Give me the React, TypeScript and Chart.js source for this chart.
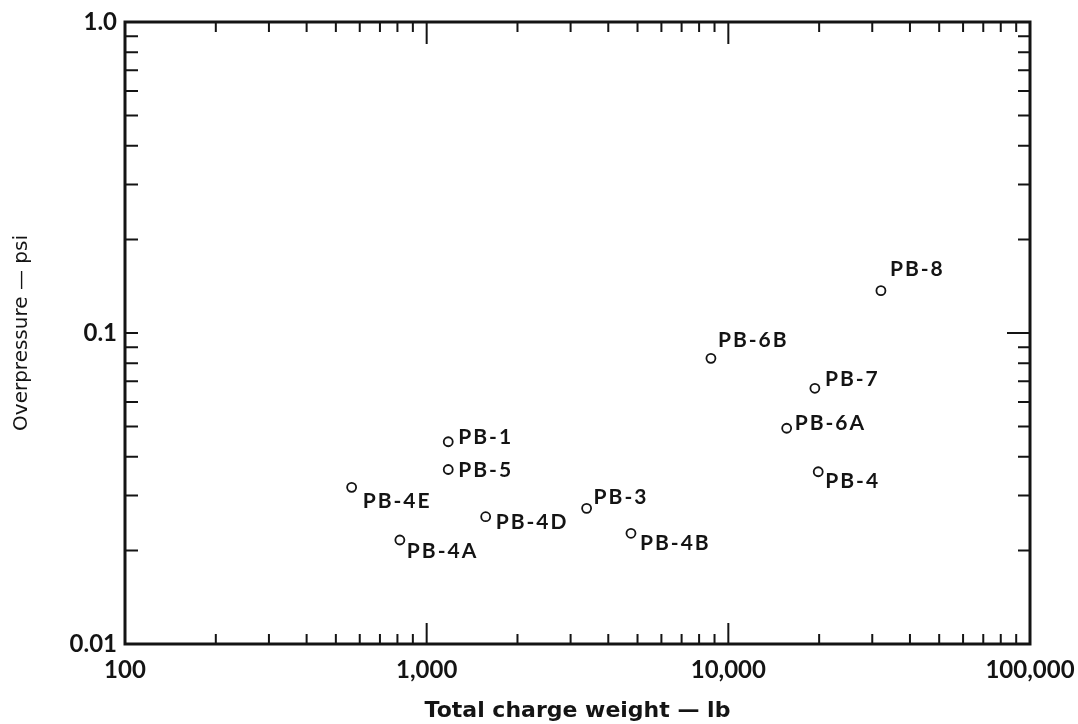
import React, { useEffect, useRef } from "react";
import { Chart, registerables } from "chart.js";

Chart.register(...registerables);

const shotNames = ["PB-1", "PB-5", "PB-4E", "PB-4D", "PB-4A", "PB-3", "PB-4B", "PB-8", "PB-6B", "PB-7", "PB-6A", "PB-4"];
const chargeWeightLb = [1179, 1179, 564, 1569, 815, 3390, 4756, 32050, 8756, 19360, 15610, 19860];
const overpressurePsi = [0.0447, 0.0364, 0.0319, 0.02566, 0.0216, 0.0273, 0.0227, 0.1368, 0.0829, 0.0664, 0.0494, 0.0358];
// label offset from the point (px), right and down
const labelDx = [10, 10, 11, 10, 7, 7, 9, 9, 7, 10, 8, 7];
const labelDy = [-5, 1, 14, 6, 11, -11, 10, -21, -18, -9, -5, 9];

const xTickValues = [100, 1000, 10000, 100000];
const xTickLabels = ["100", "1,000", "10,000", "100,000"];
const yTickValues = [0.01, 0.1, 1];
const yTickLabels = ["0.01", "0.1", "1.0"];

const INK = "#141414";

const framePlugin = {
  id: "frameTicks",
  beforeDatasetsDraw(chart: any) {
    const { ctx, chartArea: a, scales } = chart;
    const xs = scales.x;
    const ys = scales.y;
    ctx.save();
    ctx.strokeStyle = INK;
    ctx.lineCap = "butt";
    ctx.lineWidth = 2;
    for (let n = 2; n <= 4; n++) {
      for (let k = 1; k <= 9; k++) {
        const v = k * Math.pow(10, n);
        if (v <= 100 || v >= 100000) continue;
        const px = xs.getPixelForValue(v);
        const major = k === 1;
        const lb = major ? 21 : 10;
        const lt = major ? 22 : 10;
        ctx.beginPath();
        ctx.moveTo(px, a.bottom);
        ctx.lineTo(px, a.bottom - lb);
        ctx.moveTo(px, a.top);
        ctx.lineTo(px, a.top + lt);
        ctx.stroke();
      }
    }
    for (let n = -2; n <= -1; n++) {
      for (let k = 1; k <= 9; k++) {
        const v = k * Math.pow(10, n);
        if (v <= 0.01 || v >= 1) continue;
        const py = ys.getPixelForValue(v);
        const major = k === 1;
        ctx.beginPath();
        ctx.moveTo(a.left, py);
        ctx.lineTo(a.left + 13, py);
        ctx.moveTo(a.right, py);
        ctx.lineTo(a.right - (major ? 23 : 12), py);
        ctx.stroke();
      }
    }
    ctx.lineWidth = 3;
    ctx.strokeRect(a.left, a.top, a.right - a.left, a.bottom - a.top);
    ctx.restore();
  },
  afterDatasetsDraw(chart: any) {
    const { ctx } = chart;
    const meta = chart.getDatasetMeta(0);
    ctx.save();
    ctx.fillStyle = INK;
    ctx.font = "700 21px Lato";
    try { (ctx as any).letterSpacing = "2px"; } catch (e) {}
    ctx.textAlign = "left";
    ctx.textBaseline = "middle";
    meta.data.forEach((pt: any, i: number) => {
      ctx.fillText(shotNames[i], pt.x + labelDx[i], pt.y + labelDy[i]);
    });
    ctx.restore();
  },
};

export default function App() {
  const ref = useRef<HTMLCanvasElement | null>(null);
  useEffect(() => {
    if (!ref.current) return;
    const chart = new Chart(ref.current, {
      type: "scatter",
      data: {
        datasets: [
          {
            label: "Shots",
            data: chargeWeightLb.map((x, i) => ({ x, y: overpressurePsi[i] })),
            pointRadius: 4.5,
            pointBorderWidth: 1.8,
            pointBorderColor: INK,
            pointBackgroundColor: "#ffffff",
          },
        ],
      },
      options: {
        responsive: false,
        animation: false,
        layout: { padding: { left: 0, top: 22, right: 48, bottom: 0 } },
        plugins: { legend: { display: false }, tooltip: { enabled: false } },
        scales: {
          x: {
            type: "logarithmic",
            min: 100,
            max: 100000,
            afterBuildTicks: (s: any) => { s.ticks = xTickValues.map((v) => ({ value: v })); },
            afterFit: (s: any) => { s.height = 80; s.paddingLeft = 0; s.paddingRight = 0; },
            grid: { display: false, drawTicks: false },
            border: { display: false },
            ticks: {
              autoSkip: false,
              maxRotation: 0,
              padding: 12,
              color: INK,
              font: { family: "Lato", size: 24, weight: "bold" },
              callback: (v: any) => {
                const i = xTickValues.indexOf(Number(v));
                return i >= 0 ? xTickLabels[i] : "";
              },
            },
            title: {
              display: true,
              text: "Total charge weight — lb",
              color: INK,
              font: { family: "DejaVu Sans", size: 22, weight: "bold" },
              padding: { top: 0, bottom: 0 },
            },
          },
          y: {
            type: "logarithmic",
            min: 0.01,
            max: 1,
            afterBuildTicks: (s: any) => { s.ticks = yTickValues.map((v) => ({ value: v })); },
            afterFit: (s: any) => { s.width = 125; s.paddingTop = 0; s.paddingBottom = 0; },
            grid: { display: false, drawTicks: false },
            border: { display: false },
            ticks: {
              autoSkip: false,
              padding: 8,
              color: INK,
              font: { family: "Lato", size: 24, weight: "bold" },
              callback: (v: any) => {
                const i = yTickValues.findIndex((t) => Math.abs(t - Number(v)) < 1e-9);
                return i >= 0 ? yTickLabels[i] : "";
              },
            },
            title: {
              display: true,
              text: "Overpressure — psi",
              color: INK,
              font: { family: "DejaVu Sans", size: 20, weight: "normal" },
              padding: { top: 10, bottom: 0 },
            },
          },
        },
      },
      plugins: [framePlugin],
    });
    return () => chart.destroy();
  }, []);
  return (
    <div style={{ position: "absolute", left: 0, top: 0, width: 1078, height: 724, background: "#fff" }}>
      <canvas ref={ref} width={1078} height={724} style={{ display: "block" }} />
    </div>
  );
}
